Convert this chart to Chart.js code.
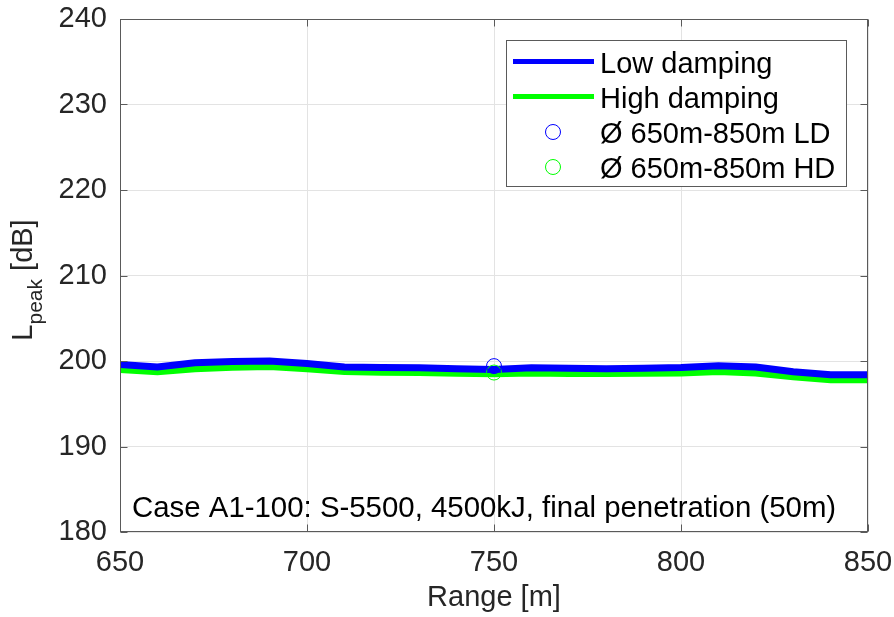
<!DOCTYPE html>
<html>
<head>
<meta charset="utf-8">
<script src="https://cdn.jsdelivr.net/npm/chart.js@4.4.1/dist/chart.umd.min.js"></script>
<style>
  html, body { margin: 0; padding: 0; background: #ffffff; }
  #peakChart { display: block; }
</style>
</head>
<body>
<canvas id="peakChart" width="894" height="617"></canvas>
<script>
// Range along the transect [m]
const ranges = [650, 660, 670, 680, 690, 700, 710, 720, 730, 740, 750,
                760, 770, 780, 790, 800, 810, 820, 830, 840, 850];
// Peak level, low damping [dB]
const lowDamping = [199.6, 199.3, 199.8, 199.95, 200.0, 199.7, 199.3, 199.25, 199.2, 199.1, 199.0,
                    199.2, 199.15, 199.1, 199.15, 199.25, 199.45, 199.3, 198.75, 198.4, 198.4];
// Peak level, high damping [dB]
const highDamping = [199.0, 198.75, 199.1, 199.27, 199.35, 199.08, 198.76, 198.68, 198.65, 198.57, 198.5,
                     198.6, 198.53, 198.53, 198.57, 198.6, 198.76, 198.6, 198.15, 197.8, 197.8];
// Averages over 650m-850m, plotted at the centre of the window
const meanRange = [750];
const meanLD = [199.4];
const meanHD = [198.65];

const xTicks = [650, 700, 750, 800, 850];
const yTicks = [180, 190, 200, 210, 220, 230, 240];

const annotationText = 'Case A1-100: S-5500, 4500kJ, final penetration (50m)';
const fontFamily = '"Liberation Sans", Arial, Helvetica, sans-serif';
const textColor = '#262626';
const frameColor = '#5a5a5a';

function toPoints(xs, ys) {
    return xs.map((x, i) => ({ x: x, y: ys[i] }));
}

// keep the plot box where the layout padding puts it
function noOverflow(scale) {
    scale.paddingTop = 0;
    scale.paddingBottom = 0;
    scale.paddingLeft = 0;
    scale.paddingRight = 0;
}

/** Draws the MATLAB style box, inward ticks, y label, annotation and legend. */
const matlabFrame = {
    id: 'matlabFrame',
    afterDraw(chart) {
        const ctx = chart.ctx;
        const area = chart.chartArea;
        const xs = chart.scales.x;
        const ys = chart.scales.y;
        const L = Math.round(area.left) + 0.5;
        const R = Math.round(area.right) - 0.5;
        const T = Math.round(area.top) + 0.5;
        const B = Math.round(area.bottom) - 0.5;
        const tickLen = 7;

        ctx.save();
        ctx.strokeStyle = frameColor;
        ctx.lineWidth = 1;
        ctx.strokeRect(L, T, R - L, B - T);
        ctx.beginPath();
        xTicks.forEach(v => {
            const px = Math.round(xs.getPixelForValue(v)) + 0.5;
            ctx.moveTo(px, B); ctx.lineTo(px, B - tickLen);
            ctx.moveTo(px, T); ctx.lineTo(px, T + tickLen);
        });
        yTicks.forEach(v => {
            const py = Math.round(ys.getPixelForValue(v)) + 0.5;
            ctx.moveTo(L, py); ctx.lineTo(L + tickLen, py);
            ctx.moveTo(R, py); ctx.lineTo(R - tickLen, py);
        });
        ctx.stroke();

        // y axis label with subscript
        ctx.fillStyle = textColor;
        ctx.textBaseline = 'alphabetic';
        ctx.textAlign = 'left';
        const bigFont = '29px ' + fontFamily;
        const subFont = '21px ' + fontFamily;
        ctx.font = bigFont;
        const wL = ctx.measureText('L').width;
        const wUnit = ctx.measureText(' [dB]').width;
        ctx.font = subFont;
        const wSub = ctx.measureText('peak').width;
        const total = wL + wSub + wUnit;
        const centerY = 280;
        ctx.translate(32, centerY + total / 2);
        ctx.rotate(-Math.PI / 2);
        ctx.font = bigFont;
        ctx.fillText('L', 0, 0);
        ctx.font = subFont;
        ctx.fillText('peak', wL, 10);
        ctx.font = bigFont;
        ctx.fillText(' [dB]', wL + wSub, 0);
        ctx.restore();

        // annotation text inside the axes
        ctx.save();
        ctx.fillStyle = '#000000';
        ctx.font = '29.4px ' + fontFamily;
        ctx.textBaseline = 'alphabetic';
        ctx.fillText(annotationText, area.left + 12, 517);
        ctx.restore();

        // legend
        ctx.save();
        const box = { x: 506.5, y: 40.5, w: 340, h: 146 };
        ctx.fillStyle = '#ffffff';
        ctx.fillRect(box.x, box.y, box.w, box.h);
        ctx.strokeStyle = frameColor;
        ctx.lineWidth = 1;
        ctx.strokeRect(box.x, box.y, box.w, box.h);
        ctx.font = '29px ' + fontFamily;
        ctx.fillStyle = '#000000';
        const rowY = [61.5, 96.5, 132, 167];
        const entries = [chart.data.datasets[2], chart.data.datasets[3],
                         chart.data.datasets[0], chart.data.datasets[1]];
        entries.forEach((ds, i) => {
            const y = rowY[i];
            if (ds.showLine === false) {
                ctx.beginPath();
                ctx.arc(553, y, ds.pointRadius, 0, Math.PI * 2);
                ctx.strokeStyle = ds.borderColor;
                ctx.lineWidth = ds.pointBorderWidth;
                ctx.stroke();
            } else {
                ctx.beginPath();
                ctx.moveTo(513, y);
                ctx.lineTo(594, y);
                ctx.strokeStyle = ds.borderColor;
                ctx.lineWidth = 5;
                ctx.stroke();
            }
            ctx.fillStyle = '#000000';
            ctx.fillText(ds.label, 600, y + 11);
        });
        ctx.restore();
    }
};

new Chart(document.getElementById('peakChart'), {
    type: 'line',
    data: {
        datasets: [
            {
                label: '\u00D8 650m-850m LD',
                data: toPoints(meanRange, meanLD),
                showLine: false,
                borderColor: '#0000ff',
                backgroundColor: 'transparent',
                pointRadius: 7.5,
                pointBorderWidth: 1,
                order: 0
            },
            {
                label: '\u00D8 650m-850m HD',
                data: toPoints(meanRange, meanHD),
                showLine: false,
                borderColor: '#00ff00',
                backgroundColor: 'transparent',
                pointRadius: 7.5,
                pointBorderWidth: 1,
                order: 1
            },
            {
                label: 'Low damping',
                data: toPoints(ranges, lowDamping),
                borderColor: '#0000ff',
                backgroundColor: 'transparent',
                borderWidth: 7,
                pointRadius: 0,
                tension: 0,
                order: 2
            },
            {
                label: 'High damping',
                data: toPoints(ranges, highDamping),
                borderColor: '#00ff00',
                backgroundColor: 'transparent',
                borderWidth: 7,
                pointRadius: 0,
                tension: 0,
                order: 3
            }
        ]
    },
    options: {
        responsive: false,
        animation: false,
        layout: {
            padding: { top: 19, right: 26, left: 0, bottom: 0 }
        },
        plugins: {
            legend: { display: false },
            tooltip: { enabled: false }
        },
        scales: {
            x: {
                type: 'linear',
                min: 650,
                max: 850,
                border: { display: false },
                grid: { color: '#e3e3e3', drawTicks: false },
                afterBuildTicks: (scale) => { scale.ticks = xTicks.map(v => ({ value: v })); },
                ticks: {
                    color: textColor,
                    padding: 14,
                    maxRotation: 0,
                    font: { family: fontFamily, size: 29 }
                },
                title: {
                    display: true,
                    text: 'Range [m]',
                    color: textColor,
                    font: { family: fontFamily, size: 29 },
                    padding: { top: 0, bottom: 2 }
                },
                afterFit: (scale) => { scale.height = 85; noOverflow(scale); }
            },
            y: {
                min: 180,
                max: 240,
                border: { display: false },
                grid: { color: '#e3e3e3', drawTicks: false },
                afterBuildTicks: (scale) => { scale.ticks = yTicks.map(v => ({ value: v })); },
                ticks: {
                    color: textColor,
                    padding: 13,
                    font: { family: fontFamily, size: 29 }
                },
                afterFit: (scale) => { scale.width = 120; noOverflow(scale); }
            }
        }
    },
    plugins: [matlabFrame]
});
</script>
</body>
</html>
